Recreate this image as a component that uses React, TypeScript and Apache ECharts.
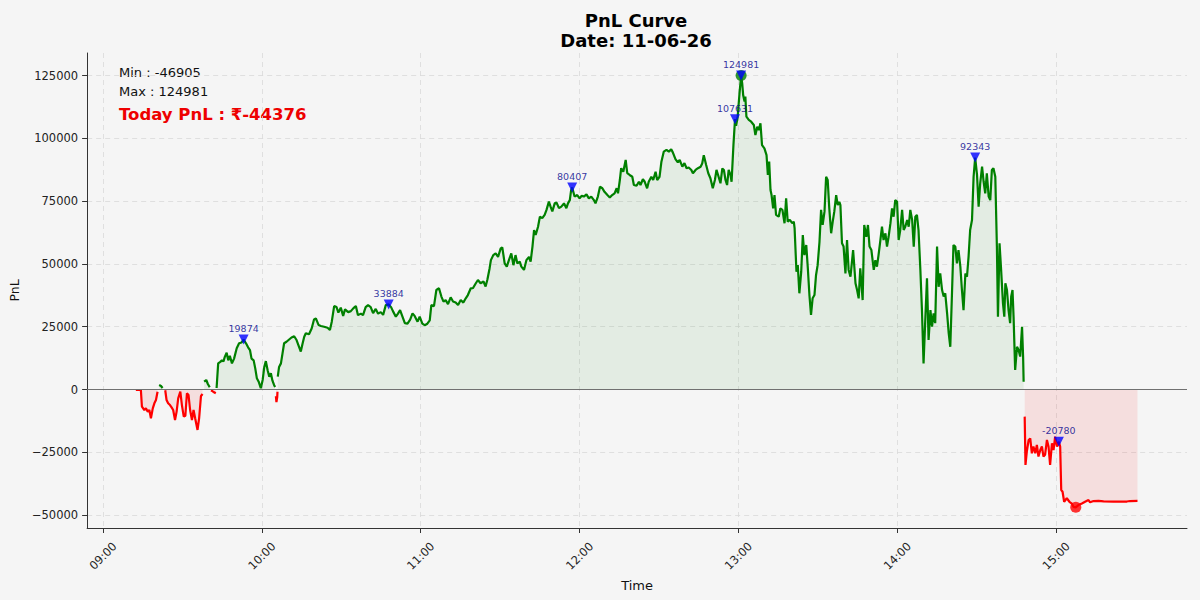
import React, { useEffect, useRef } from "react";
import * as echarts from "echarts";

// minutes after 09:00
const times = [
  12.4, 14.3, 14.7, 15.6, 16.2, 16.9, 17.5, 18.1, 18.8, 19.4,
  20.0, 20.6, 21.2, 21.9, 22.5, 23.5, 24.0, 24.6, 25.3, 25.9,
  26.5, 27.2, 27.8, 28.4, 29.2, 29.8, 30.5, 31.1, 31.7, 32.3,
  32.9, 33.6, 34.2, 34.8, 35.7, 36.3, 37.0, 37.6, 38.2, 39.0,
  39.6, 40.3, 40.8, 41.6, 42.6, 42.9, 43.5, 44.3, 44.9, 45.5,
  46.0, 46.7, 47.3, 47.9, 48.7, 49.5, 50.5, 51.4, 52.3, 53.1,
  54.0, 54.8, 55.5, 56.1, 56.9, 57.5, 58.1, 58.8, 59.6, 60.3,
  60.9, 61.5, 62.2, 62.8, 63.4, 64.0, 64.6, 65.0, 65.3, 65.5,
  65.8, 65.9, 66.0, 66.5, 67.2, 67.8, 68.4, 69.3, 70.3, 71.2,
  72.2, 73.1, 74.7, 75.4, 76.0, 76.6, 77.8, 78.8, 79.7, 80.4,
  81.4, 82.3, 83.5, 84.8, 85.7, 86.4, 87.3, 88.2, 88.9, 89.8,
  90.7, 91.4, 92.6, 93.6, 94.6, 95.5, 96.3, 97.4, 98.2, 99.2,
  100.1, 101.1, 102.0, 103.0, 103.9, 104.9, 105.8, 106.8, 107.9, 108.8,
  109.5, 110.6, 111.4, 112.2, 113.1, 114.0, 115.0, 116.0, 116.9, 117.7,
  118.8, 119.6, 120.6, 121.5, 122.5, 123.4, 124.0, 125.0, 125.9, 126.9,
  127.8, 128.6, 129.4, 130.3, 131.3, 132.2, 133.2, 134.1, 135.1, 136.1,
  137.0, 137.8, 138.9, 139.7, 140.8, 141.6, 142.6, 143.7, 144.5, 145.2,
  146.0, 146.5, 147.4, 148.3, 149.2, 150.2, 150.8, 151.7, 152.5, 153.3,
  154.2, 155.0, 155.8, 156.5, 157.4, 158.0, 159.0, 159.9, 160.9, 161.5,
  162.2, 162.8, 163.4, 164.3, 165.0, 165.9, 166.8, 167.5, 168.4, 169.1,
  169.7, 170.6, 171.3, 172.2, 173.1, 174.1, 175.0, 175.6, 176.3, 176.8,
  177.2, 178.1, 179.1, 180.0, 180.8, 181.6, 182.6, 183.5, 184.4, 185.4,
  186.0, 186.9, 187.7, 188.6, 189.4, 190.5, 191.4, 192.3, 193.2, 194.0,
  194.5, 195.2, 195.7, 196.5, 197.4, 198.0, 198.9, 199.9, 200.5, 201.5,
  202.4, 203.0, 203.9, 204.6, 205.5, 206.1, 207.1, 207.8, 208.7, 209.3,
  210.2, 210.9, 211.8, 212.8, 213.7, 214.6, 215.2, 216.2, 217.1, 217.8,
  218.8, 219.6, 220.4, 221.2, 222.2, 222.8, 223.8, 224.7, 225.7, 226.3,
  226.9, 227.8, 228.6, 229.4, 230.3, 231.1, 231.7, 232.3, 233.2, 233.9,
  234.5, 235.1, 235.7, 236.3, 237.0, 237.4, 238.1, 238.7, 239.1, 239.7,
  240.4, 241.0, 241.4, 241.8, 242.3, 242.6, 243.0, 243.9, 244.8, 245.8,
  246.4, 247.1, 247.7, 248.3, 248.9, 249.8, 250.6, 251.1, 251.6, 252.1,
  252.5, 253.1, 253.6, 254.2, 255.2, 255.8, 256.6, 257.4, 258.0, 258.6,
  259.4, 260.3, 260.9, 261.2, 261.9, 262.4, 263.0, 263.7, 264.3, 264.9,
  265.6, 266.2, 266.8, 267.4, 268.0, 268.7, 269.3, 269.9, 270.6, 271.2,
  271.8, 272.5, 273.1, 273.7, 274.3, 275.0, 275.6, 276.2, 276.9, 277.5,
  278.1, 278.5, 279.1, 279.7, 280.4, 281.0, 281.6, 282.3, 283.3, 284.2,
  284.8, 285.4, 286.0, 286.9, 287.5, 288.3, 288.9, 289.5, 290.2, 291.1,
  291.7, 292.3, 292.9, 293.6, 294.2, 294.8, 295.5, 296.1, 296.7, 297.4,
  298.0, 298.6, 299.2, 299.9, 300.5, 301.1, 301.8, 302.4, 303.0, 303.7,
  304.3, 304.9, 305.6, 306.2, 306.8, 307.4, 308.0, 308.7, 309.3, 309.9,
  310.6, 311.2, 311.8, 312.5, 313.1, 313.7, 314.3, 315.0, 315.6, 316.2,
  316.9, 317.5, 318.1, 318.8, 319.4, 320.0, 320.6, 321.2, 321.9, 322.5,
  323.1, 323.8, 324.4, 325.0, 325.7, 326.3, 326.9, 327.5, 328.2, 328.8,
  329.4, 330.1, 330.7, 331.3, 332.0, 332.6, 333.2, 333.8, 334.5, 335.1,
  335.7, 336.3, 337.0, 337.6, 338.0, 338.6, 339.2, 339.9, 340.4, 340.8,
  341.4, 342.0, 342.6, 343.0, 343.5, 343.9, 344.5, 345.2, 345.8, 346.4,
  347.1, 347.5, 347.7, 348.1, 348.4, 348.9, 349.6, 350.2, 350.8, 351.4,
  352.1, 352.7, 353.3, 354.0, 354.6, 355.2, 355.8, 356.5, 357.1, 357.7,
  358.4, 359.0, 359.6, 360.3, 361.0, 361.5, 361.9, 362.4, 363.0, 364.0,
  365.0, 365.9, 366.5, 367.4, 368.4, 369.7, 370.9, 372.2, 372.8, 374.1,
  376.0, 377.9, 381.6, 386.7, 387.9, 390.7,
];

const pnl = [
  -200, -200, -6850, -8160, -7500, -8800, -8160, -11460, -7500, -5500,
  -4180, -870, 1790, 1400, 600, -300, -4180, -5500, -6200, -7100,
  -8160, -12140, -8800, -3500, -870, -6200, -10800, -10500, -1500, -2200,
  -8160, -12140, -8160, -11460, -16100, -11460, -2600, -1800, 3100, 3770,
  2200, 900, -300, -870, -1500, 600, 10400, 11000, 11600, 11200,
  13000, 14650, 11600, 13400, 10400, 12300, 16400, 18400, 18700, 19874,
  18400, 16800, 15700, 12300, 11600, 8400, 4500, 3100, 500, 3800,
  8900, 11300, 7600, 5100, 6500, 3500, 1800, 1000, -2600, -5000,
  -3000, -900, 5100, 9000, 10400, 14400, 18400, 19000, 19900, 20700,
  21200, 19700, 15100, 18400, 21000, 22400, 22000, 24300, 27900, 28300,
  25700, 25300, 25000, 24600, 23700, 27000, 33200, 32800, 30600, 32600,
  29300, 31900, 30800, 31200, 32400, 33200, 29600, 30200, 29600, 32800,
  33600, 32800, 30400, 32100, 30200, 30800, 29700, 33600, 33884, 32800,
  31200, 29000, 30200, 31600, 29000, 26400, 26200, 27800, 30300, 29300,
  27000, 29000, 26200, 25600, 26200, 27500, 33600, 33200, 39600, 40300,
  37000, 35000, 35600, 34000, 36700, 35000, 34600, 33600, 35600, 34600,
  36300, 37600, 40300, 40300, 42300, 43600, 42300, 43000, 41000, 43900,
  48200, 51500, 53500, 54200, 52800, 56200, 56600, 50200, 48900, 51500,
  54200, 49500, 53500, 50200, 50900, 48900, 47600, 51500, 52800, 50900,
  56900, 63500, 61500, 64800, 68800, 68200, 69500, 71500, 74800, 72600,
  70900, 74100, 74400, 72200, 72800, 74100, 72200, 74100, 75400, 79400,
  80407, 76800, 77400, 76100, 77100, 76800, 77700, 76100, 76800, 75400,
  74100, 76800, 80700, 80100, 78700, 77400, 76400, 77400, 78100, 80100,
  78100, 83400, 88100, 86700, 91400, 86100, 85400, 84700, 81400, 81100,
  82700, 81400, 83700, 82700, 80100, 82700, 84700, 83400, 86700, 83400,
  84700, 90700, 94700, 95400, 94700, 95600, 94400, 91700, 90400, 91400,
  88700, 90100, 88100, 88400, 87400, 86100, 87400, 88100, 88700, 90000,
  93300, 89400, 86100, 84100, 80100, 83400, 87400, 85400, 82100, 88000,
  87400, 83400, 81400, 87400, 85400, 82700, 97300, 107631, 105000, 108600,
  118000, 124981, 122000, 117000, 114600, 116600, 108600, 107300, 106600, 105300,
  101300, 104600, 103300, 106000, 97300, 96000, 93300, 85400, 90700, 79400,
  77400, 72100, 77400, 69500, 68800, 72100, 71500, 66200, 76100, 66800,
  67500, 66200, 66800, 64200, 46900, 49500, 38300, 46900, 61500, 53500,
  57500, 48200, 37600, 29700, 36300, 37600, 45600, 49500, 58800, 71500,
  65500, 70900, 84700, 83400, 72100, 62200, 66800, 70900, 77400, 73400,
  74700, 73400, 58200, 56900, 46200, 59500, 47600, 44900, 55500, 42300,
  39600, 36300, 48200, 35600, 65500, 60800, 65500, 56900, 55500, 47600,
  51500, 48900, 53500, 59500, 64800, 59500, 62200, 56900, 60800, 66200,
  72100, 68800, 75400, 74700, 59500, 63500, 71500, 63500, 64800, 67500,
  64800, 71500, 67500, 56900, 68800, 69500, 63500, 47600, 31600, 10400,
  29000, 44300, 19700, 31600, 25000, 30300, 26400, 56900, 40900, 46200,
  39600, 37000, 38300, 30300, 22400, 17000, 37000, 57500, 56900, 50200,
  55500, 48900, 39600, 31600, 46200, 44900, 52800, 63500, 67500, 84700,
  92343, 85400, 72800, 82100, 88700, 82700, 78100, 86100, 76800, 75400,
  87400, 88100, 84700, 56900, 29000, 58200, 47600, 34300, 29000, 42300,
  39600, 31600, 26400, 37000, 39600, 29000, 7800, 17000, 15700, 13100,
  25000, 13100, 3100, -10800, -30000, -24700, -20100, -19500, -25400, -22700,
  -25400, -22100, -26700, -24100, -22700, -26700, -26000, -20100, -22700, -30000,
  -21400, -24100, -18800, -22700, -20780, -22700, -40000, -40700, -44700, -43300,
  -44700, -45400, -46700, -46905, -46000, -45400, -44700, -44000, -44900, -44400,
  -44300, -44500, -44600, -44600, -44400, -44376,
];

const peakTimes = [53.1, 107.9, 177.2, 238.7, 241.0, 329.4, 361.0];
const peakValues = [19874, 33884, 80407, 107631, 124981, 92343, -20780];

const xTickMinutes = [0, 60, 120, 180, 240, 300, 360];
const yTickValues = [-50000, -25000, 0, 25000, 50000, 75000, 100000, 125000];

const chartTitle = "PnL Curve";
const chartDate = "Date: 11-06-26";

const FONT = "DejaVu Sans";

function fmtTime(m: number): string {
  const h = 9 + Math.floor(m / 60);
  const mm = Math.round(m % 60);
  return `${String(h).padStart(2, "0")}:${String(mm).padStart(2, "0")}`;
}

export default function App() {
  const ref = useRef<HTMLDivElement>(null);

  useEffect(() => {
    if (!ref.current) return;
    const chart = echarts.init(ref.current, null, { renderer: "svg" });

    const posData = times.map((t, i) => [t, pnl[i] >= 0 ? pnl[i] : null]);
    const negData = times.map((t, i) => [t, pnl[i] < 0 ? pnl[i] : null]);

    const minV = Math.min(...pnl);
    const maxV = Math.max(...pnl);
    const minIdx = pnl.indexOf(minV);
    const maxIdx = pnl.indexOf(maxV);
    const todayV = pnl[pnl.length - 1];

    const gridLine = { show: true, lineStyle: { color: "#d9d9d9", type: [5, 4], width: 0.8 } };

    const option: any = {
      animation: false,
      backgroundColor: "#f5f5f5",
      textStyle: { fontFamily: FONT },
      grid: { left: 86, right: 13, top: 53, bottom: 72, containLabel: false },
      xAxis: {
        type: "value",
        min: -6,
        max: 409.4,
        name: "Time",
        nameLocation: "middle",
        nameGap: 46,
        nameTextStyle: { fontSize: 13, color: "#111", fontFamily: FONT },
        axisLine: { show: true, onZero: false, lineStyle: { color: "#333", width: 1 } },
        axisTick: { show: true, length: 5, lineStyle: { color: "#333" }, customValues: xTickMinutes },
        axisLabel: {
          customValues: xTickMinutes,
          formatter: (v: number) => fmtTime(v),
          rotate: 45,
          align: "center",
          verticalAlign: "middle",
          margin: 28,
          fontSize: 11.5,
          color: "#222",
          fontFamily: FONT,
        },
        splitLine: gridLine,
      },
      yAxis: {
        type: "value",
        min: -55136,
        max: 133960,
        name: "PnL",
        nameLocation: "middle",
        nameGap: 63,
        nameTextStyle: { fontSize: 12.5, color: "#111", fontFamily: FONT },
        axisLine: { show: true, onZero: false, lineStyle: { color: "#333", width: 1 } },
        axisTick: { show: true, length: 5, lineStyle: { color: "#333" }, customValues: yTickValues },
        axisLabel: {
          customValues: yTickValues,
          formatter: (v: number) => (v < 0 ? "\u2212" + String(Math.abs(v)) : String(v)),
          margin: 9,
          fontSize: 11.5,
          color: "#222",
          fontFamily: FONT,
        },
        splitLine: gridLine,
      },
      series: [
        {
          type: "line",
          name: "pos",
          data: posData,
          showSymbol: false,
          symbol: "none",
          connectNulls: false,
          lineStyle: { color: "#008000", width: 2.2 },
          itemStyle: { color: "#008000" },
          areaStyle: { color: "rgba(0,128,0,0.1)", origin: 0 },
          z: 3,
          markLine: {
            silent: true,
            symbol: ["none", "none"],
            label: { show: false },
            lineStyle: { color: "#707070", width: 1.2, type: "solid" },
            data: [{ yAxis: 0 }],
          },
        },
        {
          type: "line",
          name: "neg",
          data: negData,
          showSymbol: false,
          symbol: "none",
          connectNulls: false,
          lineStyle: { color: "#ff0000", width: 2.2 },
          itemStyle: { color: "#ff0000" },
          areaStyle: { color: "rgba(255,0,0,0.13)", origin: 0 },
          z: 3,
        },
        {
          type: "scatter",
          name: "extremes",
          data: [
            { value: [times[maxIdx], maxV], itemStyle: { color: "#008000" } },
            { value: [times[minIdx], minV], itemStyle: { color: "#ff0000" } },
          ],
          symbol: "circle",
          symbolSize: 11,
          z: 4,
        },
        {
          type: "scatter",
          name: "peaks",
          data: peakTimes.map((t, i) => [t, peakValues[i]]),
          symbol: "triangle",
          symbolRotate: 180,
          symbolSize: 10,
          itemStyle: { color: "#0000ff" },
          label: {
            show: true,
            position: "top",
            distance: 1,
            formatter: (p: any) => String(p.value[1]),
            fontSize: 9.5,
            color: "#00008b",
            fontFamily: FONT,
          },
          z: 5,
        },
      ],
      graphic: [
        {
          type: "text",
          x: 636,
          y: 20.7,
          style: {
            text: chartTitle,
            align: "center",
            verticalAlign: "middle",
            fontSize: 18,
            fontWeight: "bold",
            fontFamily: FONT,
            fill: "#000",
          },
        },
        {
          type: "text",
          x: 636,
          y: 40.5,
          style: {
            text: chartDate,
            align: "center",
            verticalAlign: "middle",
            fontSize: 18,
            fontWeight: "bold",
            fontFamily: FONT,
            fill: "#000",
          },
        },
        {
          type: "text",
          x: 119,
          y: 72.7,
          style: {
            text: `Min : ${minV}`,
            verticalAlign: "middle",
            fontSize: 13,
            fontFamily: FONT,
            fill: "#111",
          },
        },
        {
          type: "text",
          x: 119,
          y: 91.5,
          style: {
            text: `Max : ${maxV}`,
            verticalAlign: "middle",
            fontSize: 13,
            fontFamily: FONT,
            fill: "#111",
          },
        },
        {
          type: "text",
          x: 119,
          y: 114.5,
          style: {
            text: `Today PnL : \u20B9${todayV}`,
            verticalAlign: "middle",
            fontSize: 16.5,
            fontWeight: "bold",
            fontFamily: FONT,
            fill: "#ee0000",
          },
        },
      ],
    };

    chart.setOption(option);
    return () => chart.dispose();
  }, []);

  return (
    <div
      ref={ref}
      style={{ position: "fixed", left: 0, top: 0, width: 1200, height: 600, background: "#f5f5f5" }}
    />
  );
}
